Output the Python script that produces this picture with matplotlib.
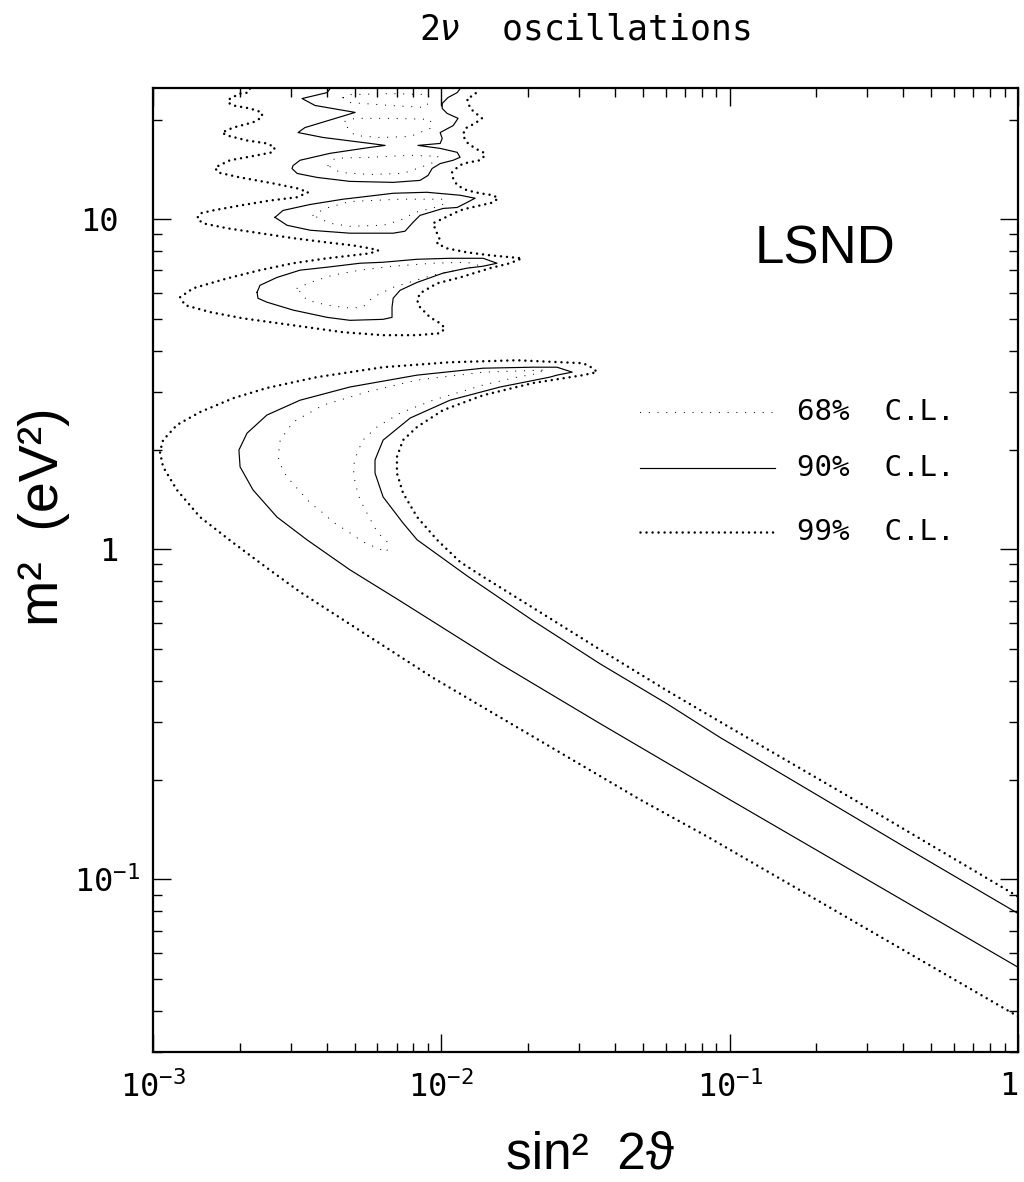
import matplotlib
matplotlib.use("Agg")
import matplotlib.pyplot as plt
from matplotlib.ticker import LogLocator, NullFormatter
from matplotlib.transforms import ScaledTranslation
import numpy as np

# contour points
# stored as log10(sin^2 2theta) and log10(dm^2 / eV^2)

# lower band, 99% C.L. (open, both ends leave through the right edge)
band99_x = [0.000, -1.078, -1.311, -1.564, -2.029, -2.490, -2.605, -2.722, -2.837, -2.917,
            -2.965, -2.976, -2.965, -2.917, -2.837, -2.722, -2.605, -2.431, -2.202, -1.970,
            -1.737, -1.508, -1.474, -1.460, -1.508, -1.682, -1.855, -1.994, -2.084, -2.133,
            -2.154, -2.154, -2.133, -2.084, -2.015, -1.935, -1.855, -1.682, -1.449, -1.217,
            -1.040, -0.575, 0.000]
band99_y = [-1.415, -0.870, -0.758, -0.628, -0.389, -0.129, -0.056, 0.020, 0.098, 0.180,
            0.250, 0.295, 0.331, 0.377, 0.416, 0.458, 0.489, 0.522, 0.552, 0.567,
            0.573, 0.564, 0.549, 0.537, 0.528, 0.504, 0.467, 0.422, 0.371, 0.331,
            0.280, 0.231, 0.171, 0.098, 0.029, -0.038, -0.083, -0.177, -0.304, -0.428,
            -0.519, -0.755, -1.052]

# lower band, 90% C.L.
band90_x = [0.000, -1.012, -1.449, -1.796, -2.143, -2.317, -2.466, -2.570, -2.653, -2.698,
            -2.702, -2.674, -2.605, -2.490, -2.317, -2.084, -1.855, -1.682, -1.599, -1.546,
            -1.599, -1.623, -1.796, -1.970, -2.108, -2.202, -2.230, -2.230, -2.202, -2.133,
            -2.084, -1.911, -1.682, -1.449, -1.217, -1.033, -0.693, -0.402, 0.000]
band90_y = [-1.266, -0.752, -0.528, -0.347, -0.156, -0.062, 0.029, 0.098, 0.180, 0.250,
            0.301, 0.352, 0.407, 0.452, 0.492, 0.528, 0.549, 0.552, 0.552, 0.537,
            0.528, 0.522, 0.492, 0.452, 0.398, 0.331, 0.271, 0.231, 0.159, 0.080,
            0.029, -0.080, -0.216, -0.347, -0.468, -0.570, -0.746, -0.897, -1.103]

# lower band, 68% C.L. (closed)
band68_x = [-1.651, -1.855, -2.084, -2.258, -2.410, -2.514, -2.559, -2.566, -2.553, -2.535,
            -2.455, -2.410, -2.376, -2.317, -2.272, -2.223, -2.188, -2.188, -2.223, -2.258,
            -2.282, -2.299, -2.306, -2.292, -2.272, -2.223, -2.143, -2.029, -1.855, -1.737,
            -1.658]
band68_y = [0.543, 0.537, 0.513, 0.477, 0.437, 0.386, 0.331, 0.280, 0.247, 0.219,
            0.141, 0.110, 0.083, 0.050, 0.023, 0.004, -0.008, 0.023, 0.053, 0.110,
            0.150, 0.201, 0.250, 0.292, 0.331, 0.371, 0.413, 0.452, 0.498, 0.522,
            0.534]

# upper region, 99% C.L. (open, both ends leave through the top edge)
top99_x = [-2.664, -2.670, -2.698, -2.733, -2.740, -2.722, -2.664, -2.622, -2.622, -2.653,
           -2.722, -2.761, -2.743, -2.674, -2.605, -2.577, -2.587, -2.639, -2.733, -2.785,
           -2.775, -2.698, -2.584, -2.500, -2.462, -2.500, -2.594, -2.698, -2.792, -2.837,
           -2.847, -2.827, -2.743, -2.629, -2.514, -2.396, -2.306, -2.247, -2.219, -2.247,
           -2.306, -2.396, -2.514, -2.629, -2.743, -2.861, -2.906, -2.889, -2.802, -2.688,
           -2.514, -2.341, -2.202, -2.084, -2.004, -1.987, -2.004, -2.039, -2.074, -2.084,
           -2.074, -2.015, -1.935, -1.831, -1.762, -1.720, -1.831, -1.911, -1.980, -2.015,
           -2.004, -2.015, -2.029, -1.935, -1.911, -1.866, -1.821, -1.803, -1.821, -1.866,
           -1.911, -1.945, -1.959, -1.963, -1.945, -1.925, -1.866, -1.848, -1.855, -1.883,
           -1.911, -1.925, -1.918, -1.883, -1.859, -1.900, -1.911, -1.883, -1.873]
top99_y = [1.396, 1.384, 1.381, 1.366, 1.354, 1.345, 1.336, 1.324, 1.309, 1.294,
           1.278, 1.263, 1.254, 1.239, 1.230, 1.218, 1.203, 1.194, 1.179, 1.157,
           1.142, 1.127, 1.109, 1.094, 1.082, 1.067, 1.057, 1.042, 1.027, 1.018,
           1.003, 0.988, 0.973, 0.958, 0.943, 0.930, 0.921, 0.912, 0.906, 0.897,
           0.891, 0.882, 0.867, 0.846, 0.821, 0.791, 0.764, 0.740, 0.719, 0.700,
           0.679, 0.658, 0.649, 0.649, 0.655, 0.670, 0.685, 0.703, 0.734, 0.755,
           0.776, 0.806, 0.824, 0.852, 0.867, 0.882, 0.891, 0.900, 0.912, 0.927,
           0.936, 0.958, 0.988, 1.027, 1.033, 1.042, 1.051, 1.064, 1.073, 1.079,
           1.088, 1.103, 1.124, 1.142, 1.157, 1.169, 1.179, 1.194, 1.203, 1.215,
           1.233, 1.254, 1.275, 1.291, 1.306, 1.336, 1.366, 1.378, 1.396]

# upper region, 90% C.L. zig-zag (open at the top edge)
top90_x = [-2.386, -2.396, -2.483, -2.438, -2.299, -2.473, -2.497, -2.410, -2.247, -2.195,
           -2.247, -2.386, -2.490, -2.514, -2.518, -2.500, -2.431, -2.317, -2.167, -2.074,
           -2.046, -2.032, -2.004, -1.959, -1.935, -1.945, -2.004, -2.081, -2.004, -1.997,
           -2.004, -1.959, -1.942, -1.980, -1.997, -1.997, -1.977, -1.945, -1.935]
top90_y = [1.396, 1.384, 1.366, 1.345, 1.324, 1.278, 1.263, 1.248, 1.230, 1.224,
           1.218, 1.200, 1.179, 1.163, 1.154, 1.139, 1.127, 1.115, 1.112, 1.118,
           1.133, 1.154, 1.169, 1.179, 1.188, 1.203, 1.215, 1.224, 1.230, 1.245,
           1.263, 1.284, 1.306, 1.321, 1.336, 1.351, 1.369, 1.384, 1.396]

# 90% islands (closed)
islB90_x = [-2.577, -2.549, -2.455, -2.341, -2.282, -2.167, -2.050, -1.935, -1.883, -1.918,
            -1.945, -1.994, -2.074, -2.098, -2.126, -2.167, -2.317, -2.455, -2.535]
islB90_y = [1.006, 1.027, 1.045, 1.061, 1.067, 1.079, 1.082, 1.073, 1.064, 1.048,
            1.036, 1.033, 1.012, 0.991, 0.964, 0.958, 0.958, 0.967, 0.982]
islA90_x = [-2.639, -2.629, -2.570, -2.490, -2.396, -2.282, -2.202, -2.084, -1.970, -1.855,
            -1.807, -1.855, -1.911, -1.994, -2.084, -2.143, -2.167, -2.171, -2.171, -2.202,
            -2.317, -2.396, -2.514, -2.605, -2.636]
islA90_y = [0.779, 0.800, 0.824, 0.846, 0.855, 0.867, 0.870, 0.879, 0.882, 0.882,
            0.867, 0.858, 0.852, 0.837, 0.809, 0.785, 0.761, 0.734, 0.703, 0.697,
            0.694, 0.703, 0.725, 0.749, 0.761]

# 68% islands (closed)
islA68_x = [-2.500, -2.455, -2.376, -2.282, -2.167, -2.029, -1.911, -1.873, -1.911, -2.029,
            -2.167, -2.237, -2.272, -2.317, -2.396, -2.466]
islA68_y = [0.791, 0.809, 0.831, 0.846, 0.858, 0.867, 0.870, 0.861, 0.852, 0.831,
            0.794, 0.764, 0.734, 0.731, 0.740, 0.755]
islB68_x = [-2.445, -2.403, -2.317, -2.143, -1.994, -1.987, -2.022, -2.091, -2.143, -2.202,
            -2.317, -2.386]
islB68_y = [1.012, 1.033, 1.054, 1.061, 1.061, 1.048, 1.036, 1.021, 0.997, 0.982,
            0.979, 0.988]
lobe1_x = [-2.393, -2.369, -2.247, -2.108, -2.011, -2.029, -2.074, -2.133, -2.247, -2.351]
lobe1_y = [1.163, 1.185, 1.188, 1.194, 1.191, 1.172, 1.157, 1.139, 1.136, 1.142]
lobe2_x = [-2.334, -2.299, -2.178, -2.039, -2.032, -2.108, -2.213, -2.299, -2.324]
lobe2_y = [1.297, 1.306, 1.306, 1.303, 1.278, 1.251, 1.248, 1.254, 1.275]
lobe3_x = [-2.341, -2.317, -2.178, -2.046, -2.039, -2.056, -2.178, -2.317]
lobe3_y = [1.369, 1.378, 1.381, 1.378, 1.360, 1.339, 1.345, 1.354]

legend_labels = ["68%  C.L.", "90%  C.L.", "99%  C.L."]

s68 = dict(color="k", lw=0.9, linestyle=(0, (0.01, 7)), dash_capstyle="round")
s90 = dict(color="k", lw=0.85, linestyle="-")
s99 = dict(color="k", lw=1.8, linestyle=(0, (0.01, 2.4)), dash_capstyle="round")


def draw(ax, lx, ly, style, closed=False):
    x = 10.0 ** np.array(lx)
    y = 10.0 ** np.array(ly)
    if closed:
        x = np.append(x, x[0])
        y = np.append(y, y[0])
    ax.plot(x, y, **style)


fig = plt.figure(figsize=(10.24, 11.82), dpi=100)
ax = fig.add_axes([153 / 1024, 1 - 1052 / 1182, 865 / 1024, 964 / 1182])
ax.set_xscale("log")
ax.set_yscale("log")

draw(ax, band99_x, band99_y, s99)
draw(ax, band90_x, band90_y, s90)
draw(ax, band68_x, band68_y, s68, closed=True)
draw(ax, top99_x, top99_y, s99)
draw(ax, top90_x, top90_y, s90)
draw(ax, islB90_x, islB90_y, s90, closed=True)
draw(ax, islA90_x, islA90_y, s90, closed=True)
for lx, ly in [(islA68_x, islA68_y), (islB68_x, islB68_y), (lobe1_x, lobe1_y),
               (lobe2_x, lobe2_y), (lobe3_x, lobe3_y)]:
    draw(ax, lx, ly, s68, closed=True)

ax.set_xlim(1e-3, 1)
ax.set_ylim(0.03, 25)

# legend drawn by hand, as in the original
for i, (lab, st) in enumerate(zip(legend_labels, [s68, s90, s99])):
    yy = [0.664, 0.606, 0.539][i]
    ax.plot([0.563, 0.719], [yy, yy], transform=ax.transAxes, **st)
    ax.text(0.745, yy, lab, transform=ax.transAxes, va="center", ha="left",
            fontsize=21, family="DejaVu Sans Mono")

ax.text(0.696, 0.832, "LSND", transform=ax.transAxes, va="center", ha="left",
        fontsize=38, family=["Liberation Sans", "DejaVu Sans"])

ax.set_xticks([1e-3, 1e-2, 1e-1, 1])
ax.set_xticklabels([r"$\mathregular{10^{-3}}$", r"$\mathregular{10^{-2}}$",
                    r"$\mathregular{10^{-1}}$", "1"])
ax.set_yticks([0.1, 1, 10])
ax.set_yticklabels([r"$\mathregular{10^{-1}}$", "1", "10"])
ax.xaxis.set_minor_locator(LogLocator(base=10, subs=np.arange(2, 10), numticks=20))
ax.yaxis.set_minor_locator(LogLocator(base=10, subs=np.arange(2, 10), numticks=20))
ax.xaxis.set_minor_formatter(NullFormatter())
ax.yaxis.set_minor_formatter(NullFormatter())
ax.tick_params(which="both", direction="in", top=True, right=True, width=1)
ax.tick_params(which="major", length=13)
ax.tick_params(which="minor", length=6.5)
ax.tick_params(axis="x", pad=14)
ax.tick_params(axis="y", pad=25)
for lab in ax.get_xticklabels() + ax.get_yticklabels():
    lab.set_family("DejaVu Sans Mono")
    lab.set_fontsize(23)
# the exponent hangs to the right of the base, as in the original
ylab = ax.get_yticklabels()[0]
ylab.set_transform(ylab.get_transform() + ScaledTranslation(0.22, 0, fig.dpi_scale_trans))
ax.get_xticklabels()[-1].set_horizontalalignment("right")
for sp in ax.spines.values():
    sp.set_linewidth(1.6)

fig.text(585 / 1024, 1 - 30 / 1182, r"2$\nu$  oscillations", ha="center", va="center",
         fontsize=25, family="DejaVu Sans Mono")
fig.text(590 / 1024, 1 - 1155 / 1182, "sin²  2ϑ", ha="center", va="center",
         fontsize=37, family=["Liberation Sans", "DejaVu Sans"])
fig.text(44 / 1024, 1 - 517 / 1182, "m²  (eV²)", ha="center", va="center", rotation=90,
         fontsize=40, family=["Liberation Sans", "DejaVu Sans"])

fig.savefig("out.png", dpi=100)
